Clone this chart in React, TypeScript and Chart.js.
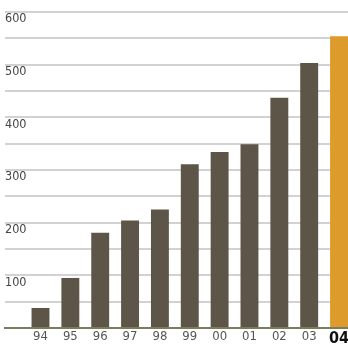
import React, { useEffect, useRef } from "react";
import { Chart, registerables } from "chart.js";

Chart.register(...registerables);

const categories = ["94", "95", "96", "97", "98", "99", "00", "01", "02", "03", "04"];
const values = [38, 95, 181, 204, 225, 311, 334, 349, 437, 503, 554];
const yTickLabels = ["100", "200", "300", "400", "500", "600"];

const FONT = "'Liberation Sans Narrow', 'DejaVu Sans Condensed', 'Arial Narrow', sans-serif";

export default function App() {
  const ref = useRef<HTMLCanvasElement>(null);

  useEffect(() => {
    if (!ref.current) return;
    const last = categories.length - 1;
    const chart = new Chart(ref.current, {
      type: "bar",
      data: {
        datasets: [
          {
            data: values.map((v, i) => ({ x: i, y: v })),
            backgroundColor: values.map((_, i) => (i === last ? "#dc9b2a" : "#5c5548")),
            barPercentage: 0.6,
            categoryPercentage: 1,
            clip: false as any,
          },
        ],
      },
      options: {
        responsive: false,
        animation: false,
        layout: { padding: { left: 5, top: 12, right: 0, bottom: 0 } },
        plugins: { legend: { display: false }, tooltip: { enabled: false } },
        scales: {
          x: {
            type: "linear",
            min: -1.189,
            max: 10.3,
            offset: false,
            z: 1,
            grid: { display: false, drawTicks: false },
            border: { display: true, color: "#7b7c5c", width: 2 },
            afterBuildTicks: (scale: any) => {
              scale.ticks = categories.map((_, i) => ({ value: i }));
            },
            afterFit: (scale: any) => {
              scale.height = 17;
              scale.paddingLeft = 0;
              scale.paddingRight = 0;
            },
            ticks: {
              autoSkip: false,
              maxRotation: 0,
              padding: 1,
              callback: (v: any) => categories[Number(v)] ?? "",
              color: (ctx: any) => (ctx.index === last ? "#111111" : "#555555"),
              font: (ctx: any) =>
                ctx.index === last
                  ? { family: FONT, size: 16, weight: "bold" }
                  : { family: FONT, size: 13 },
            },
          },
          y: {
            min: 0,
            max: 600,
            grid: { color: "#d2d2d2", lineWidth: 2, drawTicks: false },
            border: { display: false },
            afterFit: (scale: any) => {
              scale.width = 0;
              scale.paddingTop = 0;
              scale.paddingBottom = 0;
            },
            ticks: {
              stepSize: 50,
              autoSkip: false,
              mirror: true,
              padding: 0,
              labelOffset: 7,
              color: "#444444",
              font: { family: FONT, size: 12.5 },
              callback: (v: any) => (yTickLabels.includes(String(v)) ? String(v) : ""),
            },
          },
        },
      },
    });
    return () => chart.destroy();
  }, []);

  return (
    <div style={{ position: "fixed", left: 0, top: 0, width: 348, height: 345, background: "#fff" }}>
      <canvas ref={ref} width={348} height={345} style={{ display: "block" }} />
    </div>
  );
}
